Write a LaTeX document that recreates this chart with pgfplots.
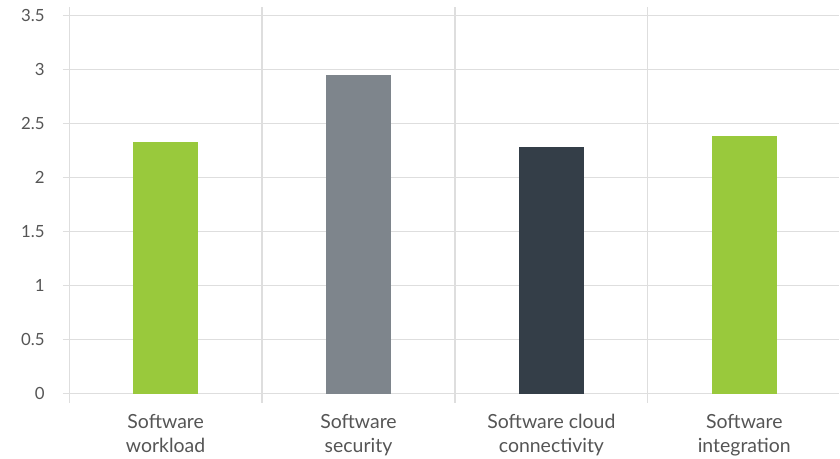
\documentclass[border=0pt]{standalone}
\usepackage{fontspec}
\setmainfont{Lato}
\usepackage{pgfplots}
\pgfplotsset{compat=1.18}

\definecolor{barGreen}{HTML}{99C93C}
\definecolor{barGray}{HTML}{7E858C}
\definecolor{barDark}{HTML}{343E48}
\definecolor{gridGray}{HTML}{DEDEDE}
\definecolor{txt}{HTML}{555555}

\begin{document}
\begin{tikzpicture}
\begin{axis}[
  scale only axis,
  width=583pt, height=297pt,
  xmin=-0.034, xmax=3.993,
  ymin=-0.083, ymax=3.58,
  axis line style={draw=none},
  xtick={0.5,1.5,2.5,3.5},
  xticklabels={Software\\workload, Software\\security, Software cloud\\connectivity, Software\\integration},
  minor xtick={0,1,2,3},
  xminorgrids=true, xmajorgrids=false,
  ytick={0,0.5,...,3.5},
  ymajorgrids=true,
  major tick length=0pt, minor tick length=0pt,
  grid style={gridGray, line width=0.9pt},
  minor grid style={gridGray, line width=0.9pt},
  /pgf/number format/assume math mode=true,
  yticklabel style={font=\fontsize{12.6}{14}\selectfont, text=txt, inner sep=0pt, anchor=east},
  xticklabel style={font=\fontsize{14.6}{18}\selectfont, text=txt, inner sep=0pt, anchor=north, align=center},
  yticklabel shift=13.3pt,
  xticklabel shift=8.5pt,
]
\addplot[ybar, bar width=0.335, bar shift=0pt, fill=barGreen, draw=none] coordinates {(0.5,2.33)};
\addplot[ybar, bar width=0.335, bar shift=0pt, fill=barGray, draw=none] coordinates {(1.5,2.95)};
\addplot[ybar, bar width=0.335, bar shift=0pt, fill=barDark, draw=none] coordinates {(2.5,2.28)};
\addplot[ybar, bar width=0.335, bar shift=0pt, fill=barGreen, draw=none] coordinates {(3.5,2.39)};
\end{axis}
\path[use as bounding box] ([xshift=-47pt,yshift=-42pt]current axis.south west) rectangle ([yshift=5.25pt]current axis.north east);
\end{tikzpicture}
\end{document}
